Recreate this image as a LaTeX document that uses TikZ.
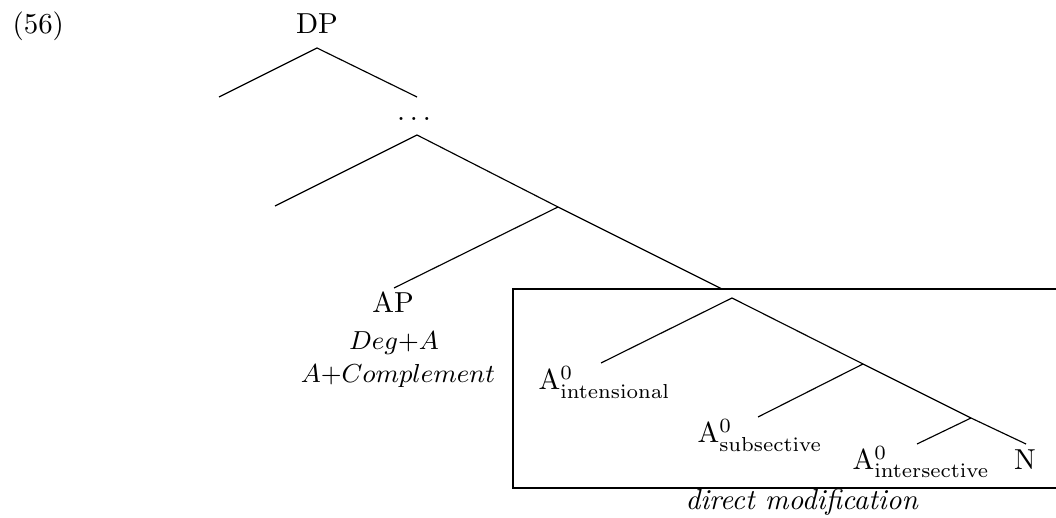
\documentclass[tikz,border=0pt]{standalone}
\begin{document}
\begin{tikzpicture}[x=0.346pt,y=-0.346pt,
  edge/.style={line width=0.4pt},
  boxline/.style={line width=0.8pt},
  lbl/.style={inner sep=0pt, anchor=base, font=\fontsize{10}{12}\selectfont},
  lbls/.style={inner sep=0pt, anchor=base, font=\fontsize{9.1}{11}\selectfont},
  lblw/.style={inner sep=0pt, anchor=base west, font=\fontsize{10}{12}\selectfont}]
\useasboundingbox (0,0) rectangle (1056,518);
% example number
\node[lblw] (ex) at (12,34) {(56)};
% top of tree
\node[lbl] (dp) at (317,34) {DP};
\coordinate (dpb) at (317,48);
\coordinate (l1) at (219,97);
\coordinate (r1) at (417,97);
\node[lbl] (dots) at (414,121) {$\ldots$};
\coordinate (b2) at (417,135);
\coordinate (l2) at (275,206);
\coordinate (b3) at (558,207);
\coordinate (aptop) at (394,288);
\coordinate (boxin) at (722,289);
\node[lbl] (ap) at (393,313) {AP};
\node[lbls] (deg) at (394,350) {$Deg{+}A$};
\node[lbls] (comp) at (398,383) {$A{+}Complement$};
% box subtree
\coordinate (b4) at (732,298);
\coordinate (inttop) at (601,363);
\coordinate (b5) at (863,364);
\coordinate (subtop) at (758,417);
\coordinate (b6) at (971,418);
\coordinate (intstop) at (917,444);
\coordinate (ntop) at (1026,444);
\node[lblw] (aint) at (538,390) {$\mathrm{A}^0_{\mathrm{intensional}}$};
\node[lblw] (asub) at (697,443) {$\mathrm{A}^0_{\mathrm{subsective}}$};
\node[lblw] (aints) at (852,470) {$\mathrm{A}^0_{\mathrm{intersective}}$};
\node[lbl] (n) at (1025,470) {N};
\node[lbl] (dm) at (802,510) {\textit{direct modification}};
% edges
\draw[edge] (dpb) -- (l1);
\draw[edge] (dpb) -- (r1);
\draw[edge] (b2) -- (l2);
\draw[edge] (b2) -- (b3) -- (boxin);
\draw[edge] (b3) -- (aptop);
\draw[edge] (b4) -- (inttop);
\draw[edge] (b4) -- (b5) -- (b6) -- (ntop);
\draw[edge] (b5) -- (subtop);
\draw[edge] (b6) -- (intstop);
% box (right side runs off the picture)
\draw[boxline] (1060,289) -- (513,289) -- (513,488) -- (1060,488);
\end{tikzpicture}
\end{document}
